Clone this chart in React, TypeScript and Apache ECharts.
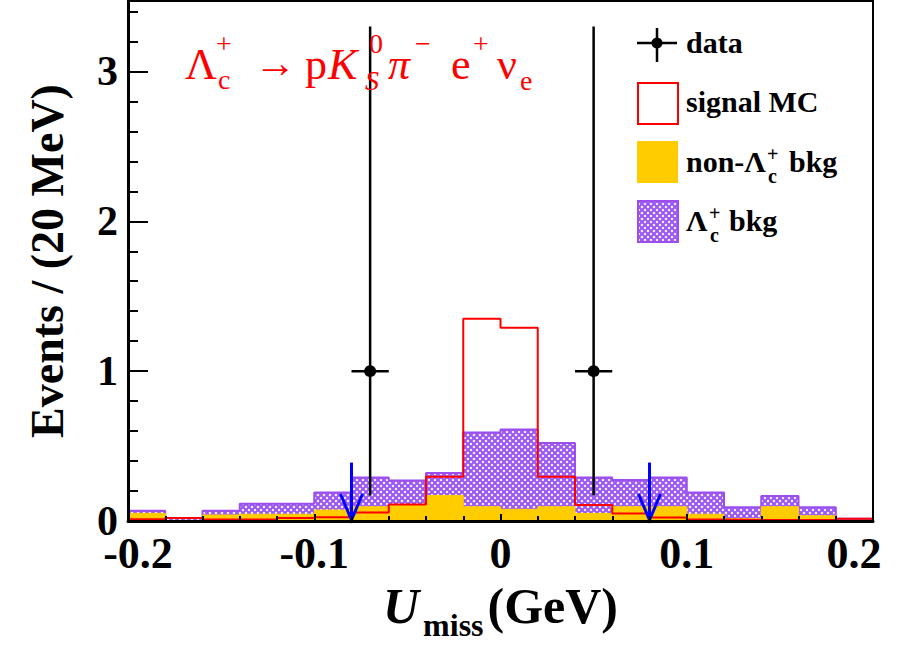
import React, { useEffect, useRef } from "react";
import * as echarts from "echarts";

// ---------- data ----------
const binLeftEdges = [
  -0.2, -0.18, -0.16, -0.14, -0.12, -0.1, -0.08, -0.06, -0.04, -0.02,
  0.0, 0.02, 0.04, 0.06, 0.08, 0.1, 0.12, 0.14, 0.16, 0.18,
];
const binUpperEdge = 0.2;
const binHalfWidth = 0.01;

// purple hatched: Lambda_c+ bkg (drawn as total background, non-Lc drawn on top)
const lcBkgTotal = [
  0.069, 0.02, 0.069, 0.115, 0.115, 0.19, 0.29, 0.27, 0.32, 0.59,
  0.61, 0.52, 0.29, 0.273, 0.29, 0.19, 0.091, 0.167, 0.091, 0.015,
];
// yellow: non-Lambda_c+ bkg
const nonLcBkg = [
  0.051, 0.0, 0.04, 0.045, 0.045, 0.073, 0.095, 0.11, 0.17, 0.095,
  0.078, 0.095, 0.05, 0.095, 0.095, 0.045, 0.015, 0.095, 0.035, 0.0,
];
// red outline: signal MC
const signalMC = [
  0.011, 0.02, 0.01, 0.01, 0.02, 0.025, 0.056, 0.11, 0.295, 1.35,
  1.29, 0.295, 0.107, 0.05, 0.024, 0.01, 0.007, 0.007, 0.007, 0.015,
];
// data points (Poisson asymmetric errors)
const dataX = [-0.07, 0.05];
const dataY = [1, 1];
const dataErrLow = [0.83, 0.83];
const dataErrHigh = [2.3, 2.3];
// cut arrows
const cutX = [-0.08, 0.08];
const cutArrowTop = [0.39, 0.39];

const xMin = -0.2;
const xMax = 0.2;
const xInterval = 0.1;
const yMin = 0;
const yMax = 3.47;

// ---------- styles ----------
const FONT = '"Liberation Serif", "Times New Roman", serif';
const PURPLE = "#9b4dee";
const YELLOW = "#ffcc00";
const RED = "#ff0000";

function stepData(values: number[]) {
  const pts = binLeftEdges.map((e, i) => [e, values[i]]);
  pts.push([binUpperEdge, values[values.length - 1]]);
  return pts;
}

function makeHatch() {
  const c = document.createElement("canvas");
  c.width = 6;
  c.height = 6;
  const ctx = c.getContext("2d")!;
  ctx.fillStyle = "#ffffff";
  ctx.fillRect(0, 0, 6, 6);
  ctx.strokeStyle = "#9a58f2";
  ctx.lineWidth = 2.2;
  ctx.beginPath();
  ctx.moveTo(-1, -1);
  ctx.lineTo(7, 7);
  ctx.moveTo(7, -1);
  ctx.lineTo(-1, 7);
  ctx.stroke();
  return c;
}

// x = left edge, baseline = alphabetic baseline of glyphs
function txt(text: string, x: number, baseline: number, size: number, fill: string, opts: any = {}) {
  return {
    type: "text",
    x,
    y: baseline - 0.34 * size,
    silent: true,
    z: 50,
    style: {
      text,
      fill,
      font: `${opts.italic ? "italic " : ""}${opts.bold ? "bold " : ""}${size}px ${opts.family || FONT}`,
      align: "left",
      verticalAlign: "middle",
    },
  };
}

export default function App() {
  const ref = useRef<HTMLDivElement>(null);

  useEffect(() => {
    if (!ref.current) return;
    const chart = echarts.init(ref.current, null, { renderer: "svg" });
    const hatch = makeHatch();
    const hatchPattern = { image: hatch, repeat: "repeat" };

    const formulaFont = '"Liberation Serif", "DejaVu Serif", serif';
    const fm = (t: string, x: number, y: number, s: number, it = false) =>
      txt(t, x, y, s, RED, { italic: it, family: formulaFont });

    const lg = (t: string, x: number, y: number, s: number) =>
      txt(t, x, y, s, "#000", { bold: true });

    const graphic: any[] = [
      // formula
      fm("Λ", 185, 79, 44),
      fm("+", 216, 53, 28),
      fm("c", 218, 89, 28),
      fm("→", 254, 77, 42),
      fm("p", 305, 79, 44),
      fm("K", 328, 79, 44, true),
      fm("0", 369, 53, 28),
      fm("S", 365, 90, 28, true),
      fm("π", 388, 79, 44, true),
      fm("−", 415, 53, 28),
      fm("e", 451, 79, 44),
      fm("+", 473, 53, 28),
      fm("ν", 497, 79, 44),
      fm("e", 520, 90, 28),
      // legend: data
      {
        type: "line",
        silent: true,
        z: 50,
        shape: { x1: 637, y1: 43, x2: 677, y2: 43 },
        style: { stroke: "#000", lineWidth: 2.5 },
      },
      {
        type: "line",
        silent: true,
        z: 50,
        shape: { x1: 657, y1: 28, x2: 657, y2: 62 },
        style: { stroke: "#000", lineWidth: 2.5 },
      },
      { type: "circle", silent: true, z: 51, shape: { cx: 657, cy: 43, r: 5.5 }, style: { fill: "#000" } },
      lg("data", 686, 53, 30),
      // legend: signal MC
      {
        type: "rect",
        silent: true,
        z: 50,
        shape: { x: 638, y: 83, width: 40, height: 41 },
        style: { fill: "#fff", stroke: RED, lineWidth: 2 },
      },
      lg("signal MC", 686, 112, 30),
      // legend: non-Lc bkg
      {
        type: "rect",
        silent: true,
        z: 50,
        shape: { x: 637, y: 141, width: 41, height: 42 },
        style: { fill: YELLOW },
      },
      lg("non-Λ", 686, 172, 30),
      lg("+", 767, 161, 20),
      lg("c", 768, 183, 20),
      lg("bkg", 789, 172, 30),
      // legend: Lc bkg
      {
        type: "rect",
        silent: true,
        z: 50,
        shape: { x: 638, y: 201, width: 40, height: 41 },
        style: { fill: hatchPattern, stroke: PURPLE, lineWidth: 2 },
      },
      lg("Λ", 686, 231, 30),
      lg("+", 709, 220, 20),
      lg("c", 710, 242, 20),
      lg("bkg", 729, 231, 30),
    ];

    const labelRich = {
      a: { fontFamily: FONT, fontWeight: "bold", fontSize: 44, lineHeight: 34, color: "#000", padding: [0, 0, 0, 20] },
      b: { fontFamily: FONT, fontWeight: "bold", fontSize: 44, lineHeight: 34, color: "#000", padding: [0, 38, 0, 0] },
    };

    chart.setOption({
      animation: false,
      backgroundColor: "#ffffff",
      grid: {
        left: 128,
        top: 1,
        width: 745,
        height: 520,
        outerBoundsMode: "none",
        containLabel: false,
        show: true,
        borderColor: "#000",
        borderWidth: 2,
        backgroundColor: "transparent",
      },
      xAxis: {
        type: "value",
        min: xMin,
        max: xMax,
        interval: xInterval,
        z: 10,
        axisLine: { onZero: false, lineStyle: { color: "#000", width: 3 } },
        axisTick: { inside: true, length: 7, lineStyle: { color: "#000", width: 2 } },
        minorTick: { show: true, splitNumber: 5, length: 5, lineStyle: { color: "#000", width: 2 } },
        splitLine: { show: false },
        axisLabel: {
          margin: 15,
          color: "#000",
          fontFamily: FONT,
          fontWeight: "bold",
          fontSize: 44,
          lineHeight: 34,
          formatter: (v: number) => {
            if (Math.abs(v - xMin) < 1e-9) return "{a|-0.2}";
            if (Math.abs(v - xMax) < 1e-9) return "{b|0.2}";
            if (Math.abs(v) < 1e-9) return "0";
            return String(Math.round(v * 10) / 10);
          },
          rich: labelRich,
        },
        name: "{u|U}{s|miss}{g|(GeV)}",
        nameLocation: "middle",
        nameGap: 50,
        nameTextStyle: {
          rich: {
            u: { fontFamily: FONT, fontWeight: "bold", fontStyle: "italic", fontSize: 50, color: "#000" },
            s: { fontFamily: FONT, fontWeight: "bold", fontSize: 32, color: "#000", padding: [38, 4, 0, 4] },
            g: { fontFamily: FONT, fontWeight: "bold", fontSize: 50, color: "#000" },
          },
        },
      },
      yAxis: [
        {
          type: "value",
          position: "left",
          min: yMin,
          max: yMax,
          interval: 1,
          z: 10,
          axisLine: { show: true, onZero: false, lineStyle: { color: "#000", width: 3 } },
          axisTick: { show: true, inside: true, length: 20, lineStyle: { color: "#000", width: 2 } },
          splitLine: { show: false },
          axisLabel: {
            margin: 10,
            color: "#000",
            fontFamily: FONT,
            fontWeight: "bold",
            fontSize: 42,
            lineHeight: 28,
            showMaxLabel: false,
          },
          name: "Events / (20 MeV)",
          nameLocation: "middle",
          nameGap: 58,
          nameRotate: 90,
          nameTextStyle: { fontFamily: FONT, fontWeight: "bold", fontSize: 46, color: "#000" },
        },
        {
          type: "value",
          position: "left",
          min: yMin,
          max: yMax,
          interval: 0.2,
          z: 10,
          axisLine: { show: false, onZero: false },
          axisTick: { show: true, inside: true, length: 10, lineStyle: { color: "#000", width: 2 } },
          splitLine: { show: false },
          axisLabel: { show: false },
        },
      ],
      series: [
        {
          name: "Λc+ bkg",
          type: "line",
          step: "end",
          data: stepData(lcBkgTotal),
          symbol: "none",
          silent: true,
          z: 2,
          lineStyle: { color: PURPLE, width: 2 },
          areaStyle: { color: hatchPattern, opacity: 1 },
        },
        {
          name: "non-Λc+ bkg",
          type: "line",
          step: "end",
          data: stepData(nonLcBkg),
          symbol: "none",
          silent: true,
          z: 3,
          lineStyle: { color: YELLOW, width: 1 },
          areaStyle: { color: YELLOW, opacity: 1 },
        },
        {
          name: "signal MC",
          type: "line",
          step: "end",
          data: stepData(signalMC),
          symbol: "none",
          silent: true,
          z: 4,
          lineStyle: { color: RED, width: 2 },
        },
        {
          name: "data",
          type: "custom",
          silent: true,
          z: 6,
          encode: { x: 0, y: 1 },
          data: dataX.map((x, i) => [x, dataY[i], dataErrLow[i], dataErrHigh[i]]),
          renderItem: (_p: any, api: any) => {
            const x = api.value(0);
            const y = api.value(1);
            const lo = api.value(2);
            const hi = api.value(3);
            const c = api.coord([x, y]);
            const top = api.coord([x, y + hi]);
            const bot = api.coord([x, y - lo]);
            const l = api.coord([x - binHalfWidth, y]);
            const r = api.coord([x + binHalfWidth, y]);
            const st = { stroke: "#000", lineWidth: 2.5 };
            return {
              type: "group",
              children: [
                { type: "line", shape: { x1: top[0], y1: top[1], x2: bot[0], y2: bot[1] }, style: st },
                { type: "line", shape: { x1: l[0], y1: l[1], x2: r[0], y2: r[1] }, style: st },
                { type: "circle", shape: { cx: c[0], cy: c[1], r: 6 }, style: { fill: "#000" } },
              ],
            };
          },
        },
        {
          name: "cut",
          type: "custom",
          silent: true,
          z: 7,
          encode: { x: 0, y: 1 },
          data: cutX.map((x, i) => [x, cutArrowTop[i]]),
          renderItem: (_p: any, api: any) => {
            const x = api.value(0);
            const t = api.value(1);
            const p0 = api.coord([x, t]);
            const p1 = api.coord([x, 0]);
            const st = { stroke: "#0000ff", lineWidth: 3, fill: null };
            return {
              type: "group",
              children: [
                { type: "line", shape: { x1: p0[0], y1: p0[1], x2: p1[0], y2: p1[1] }, style: st },
                {
                  type: "polyline",
                  shape: {
                    points: [
                      [p1[0] - 11, p1[1] - 27],
                      [p1[0], p1[1] - 1],
                      [p1[0] + 11, p1[1] - 27],
                    ],
                  },
                  style: st,
                },
              ],
            };
          },
        },
      ],
      graphic,
    });

    return () => chart.dispose();
  }, []);

  return (
    <div
      ref={ref}
      style={{ position: "fixed", left: 0, top: 0, width: 903, height: 649, background: "#fff" }}
    />
  );
}
